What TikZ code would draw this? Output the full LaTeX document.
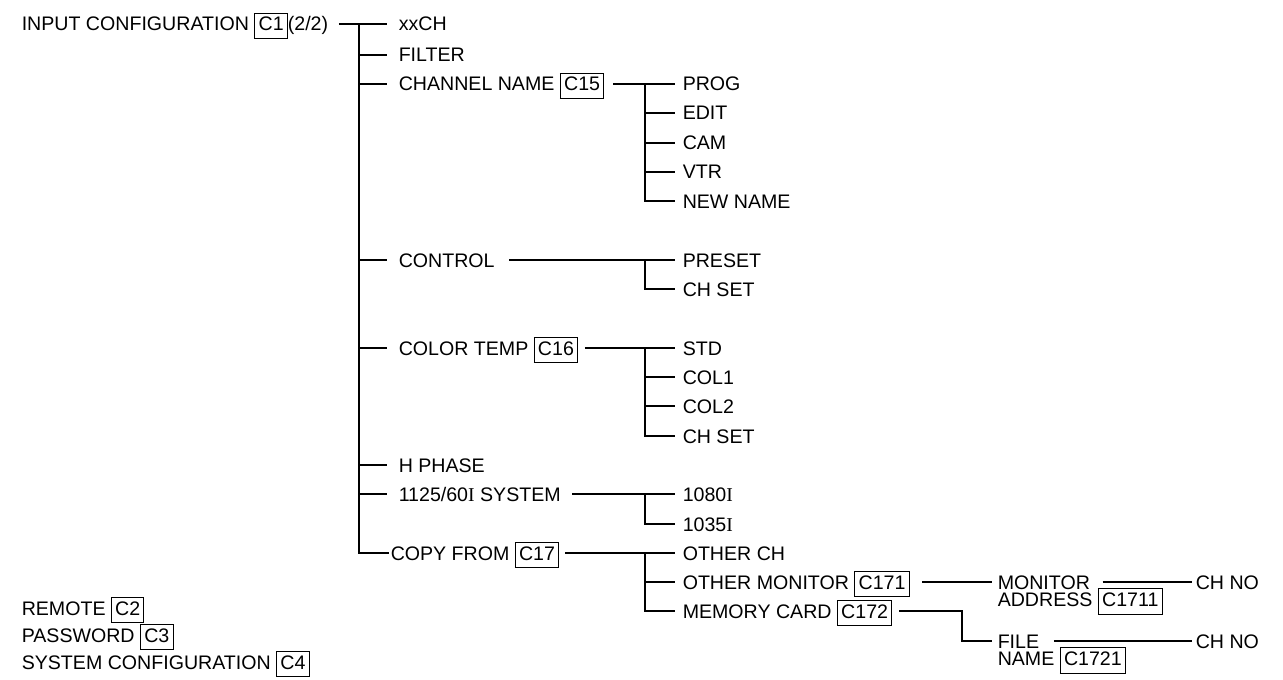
\documentclass[tikz,border=0pt]{standalone}
\usepackage{fontspec}
\setmainfont{Liberation Sans}
\newfontfamily\seriffont{Liberation Serif}
\newcommand{\romI}{{\seriffont I}}
\setlength{\fboxsep}{1.6pt}
\setlength{\fboxrule}{0.5pt}
\newcommand{\cbox}[1]{\fbox{\vphantom{(}#1}}
\tikzset{lbl/.style={anchor=west,inner sep=0pt,text height=7pt,text depth=0pt,font=\fontsize{9.8pt}{11pt}\selectfont}}
\begin{document}
\begin{tikzpicture}[x=0.5pt,y=-0.5pt,line width=0.75pt]
\useasboundingbox (0,0) rectangle (1283,679);
\node[lbl] (root) at (21,24) {INPUT CONFIGURATION \cbox{C1}(2/2)};
\node[lbl] (xxch) at (398,24) {xxCH};
\node[lbl] (filter) at (398,55) {FILTER};
\node[lbl] (chname) at (398,84) {CHANNEL NAME \cbox{C15}};
\node[lbl] (control) at (398,260) {CONTROL};
\node[lbl] (colortemp) at (398,348) {COLOR TEMP \cbox{C16}};
\node[lbl] (hphase) at (398,465) {H PHASE};
\node[lbl] (system) at (398,494) {1125/60\romI{} SYSTEM};
\node[lbl] (copy) at (390,553) {COPY FROM \cbox{C17}};
\node[lbl] (prog) at (682,84) {PROG};
\node[lbl] (edit) at (682,113) {EDIT};
\node[lbl] (cam) at (682,143) {CAM};
\node[lbl] (vtr) at (682,172) {VTR};
\node[lbl] (newname) at (682,201) {NEW NAME};
\node[lbl] (preset) at (682,260) {PRESET};
\node[lbl] (chseta) at (682,289) {CH SET};
\node[lbl] (std) at (682,348) {STD};
\node[lbl] (cola) at (682,377) {COL1};
\node[lbl] (colb) at (682,406) {COL2};
\node[lbl] (chsetb) at (682,436) {CH SET};
\node[lbl] (sysa) at (682,494) {1080\romI};
\node[lbl] (sysb) at (682,524) {1035\romI};
\node[lbl] (otherch) at (682,553) {OTHER CH};
\node[lbl] (othermon) at (682,582) {OTHER MONITOR \cbox{C171}};
\node[lbl] (memcard) at (682,611) {MEMORY CARD \cbox{C172}};
\node[lbl] (mon) at (997,582) {MONITOR};
\node[lbl] (monaddr) at (997,599.5) {ADDRESS \cbox{C1711}};
\node[lbl] (chnoa) at (1195,582) {CH NO};
\node[lbl] (file) at (997,641) {FILE};
\node[lbl] (filename) at (997,658.5) {NAME \cbox{C1721}};
\node[lbl] (chnob) at (1195,641) {CH NO};
\node[lbl] (remote) at (21,608) {REMOTE \cbox{C2}};
\node[lbl] (password) at (21,635) {PASSWORD \cbox{C3}};
\node[lbl] (sysconf) at (21,662) {SYSTEM CONFIGURATION \cbox{C4}};
\coordinate (maintr) at (359,24);
\coordinate (chtr) at (645,84);
\coordinate (ctltr) at (645,260);
\coordinate (coltr) at (645,348);
\coordinate (systr) at (645,494);
\coordinate (copytr) at (645,553);
\coordinate (cardtr) at (962,611);
\draw ([xshift=5pt]root.east) -- ([xshift=-5.5pt]xxch.west);
\draw (maintr) |- ([xshift=-0.5pt]copy.west);
\draw (maintr |- filter.west) -- ([xshift=-5.5pt]filter.west);
\draw (maintr |- chname.west) -- ([xshift=-5.5pt]chname.west);
\draw (maintr |- control.west) -- ([xshift=-5.5pt]control.west);
\draw (maintr |- colortemp.west) -- ([xshift=-5.5pt]colortemp.west);
\draw (maintr |- hphase.west) -- ([xshift=-5.5pt]hphase.west);
\draw (maintr |- system.west) -- ([xshift=-5.5pt]system.west);
\draw ([xshift=4pt]chname.east) -- ([xshift=-3.5pt]prog.west);
\draw (chtr) |- ([xshift=-3.5pt]newname.west);
\draw (chtr |- edit.west) -- ([xshift=-3.5pt]edit.west);
\draw (chtr |- cam.west) -- ([xshift=-3.5pt]cam.west);
\draw (chtr |- vtr.west) -- ([xshift=-3.5pt]vtr.west);
\draw ([xshift=7pt]control.east) -- ([xshift=-3.5pt]preset.west);
\draw (ctltr) |- ([xshift=-3.5pt]chseta.west);
\draw ([xshift=3pt]colortemp.east) -- ([xshift=-3.5pt]std.west);
\draw (coltr) |- ([xshift=-3.5pt]chsetb.west);
\draw (coltr |- cola.west) -- ([xshift=-3.5pt]cola.west);
\draw (coltr |- colb.west) -- ([xshift=-3.5pt]colb.west);
\draw ([xshift=5.5pt]system.east) -- ([xshift=-3.5pt]sysa.west);
\draw (systr) |- ([xshift=-3.5pt]sysb.west);
\draw ([xshift=2.5pt]copy.east) -- ([xshift=-3.5pt]otherch.west);
\draw (copytr) |- ([xshift=-3.5pt]memcard.west);
\draw (copytr |- othermon.west) -- ([xshift=-3.5pt]othermon.west);
\draw ([xshift=6pt]othermon.east) -- ([xshift=-2.5pt]mon.west);
\draw ([xshift=3pt]memcard.east) -- (cardtr) |- ([xshift=-2.5pt]file.west);
\draw ([xshift=6pt]mon.east) -- ([xshift=-1.5pt]chnoa.west);
\draw ([xshift=7pt]file.east) -- ([xshift=-1.5pt]chnob.west);
\end{tikzpicture}
\end{document}
